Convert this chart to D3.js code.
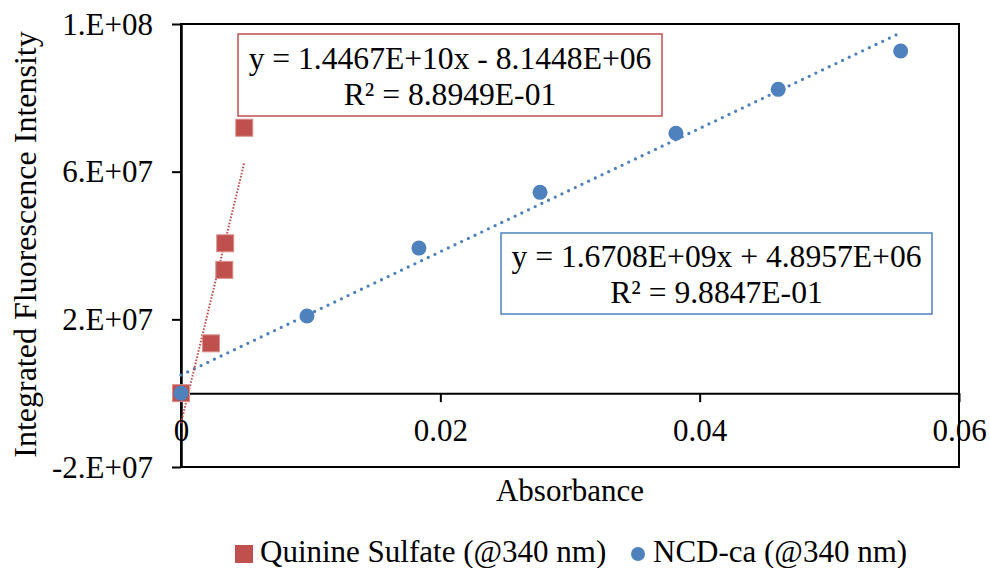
<!DOCTYPE html>
<html>
<head>
<meta charset="utf-8">
<script src="https://cdn.jsdelivr.net/npm/d3@7"></script>
<style>
  body { margin: 0; background: #fff; }
  text { font-family: "Liberation Serif", "Times New Roman", serif; fill: #000; }
</style>
</head>
<body>
<div id="chart"></div>
<script>
// series data
var quinineX = [0, 0.00231, 0.00334, 0.00341, 0.00488];
var quinineY = [0, 1.35e7, 3.34e7, 4.06e7, 7.19e7];

var ncdX = [0, 0.00972, 0.01835, 0.02769, 0.03817, 0.04606, 0.0555];
var ncdY = [0, 2.09e7, 3.93e7, 5.44e7, 7.04e7, 8.23e7, 9.27e7];

// trendline coefficients (slope, intercept) as printed on the chart
var quinineFit = [1.4467e10, -8.1448e6];
var ncdFit = [1.6708e9, 4.8957e6];

var xTicks = [0, 0.02, 0.04, 0.06];
var xTickLabels = ["0", "0.02", "0.04", "0.06"];
var yTicks = [-2e7, 2e7, 6e7, 1e8];
var yTickLabels = ["-2.E+07", "2.E+07", "6.E+07", "1.E+08"];

var seriesNames = ["Quinine Sulfate (@340 nm)", "NCD-ca (@340 nm)"];
var eqLines = [
    ["y = 1.4467E+10x - 8.1448E+06", "R\u00B2 = 8.8949E-01"],
    ["y = 1.6708E+09x + 4.8957E+06", "R\u00B2 = 9.8847E-01"]
];

var red = "#C0504D";
var blue = "#4F81BD";

var svgWidth = 990;
var svgHeight = 568;

var margin = { top: 24, right: 31, bottom: 101, left: 181 };
var width = svgWidth - margin.left - margin.right;
var height = svgHeight - margin.top - margin.bottom;

var svg = d3.select("#chart")
    .append("svg")
    .attr("width", svgWidth)
    .attr("height", svgHeight);

svg.append("rect")
    .attr("width", svgWidth)
    .attr("height", svgHeight)
    .attr("fill", "#fff");

var chartGroup = svg.append("g")
    .attr("transform", `translate(${margin.left}, ${margin.top})`);

var xScale = d3.scaleLinear().domain([0, 0.06]).range([0, width]);
var yScale = d3.scaleLinear().domain([-2e7, 1e8]).range([height, 0]);

// plot frame
chartGroup.append("rect")
    .attr("width", width)
    .attr("height", height)
    .attr("fill", "none")
    .attr("stroke", "#000")
    .attr("stroke-width", 2);

// y axis
var leftAxis = d3.axisLeft(yScale)
    .tickValues(yTicks)
    .tickFormat((d, i) => yTickLabels[i])
    .tickSize(9)
    .tickSizeOuter(0)
    .tickPadding(19);

var yAxisG = chartGroup.append("g").call(leftAxis);
yAxisG.select(".domain").attr("stroke-width", 2.5);
yAxisG.selectAll(".tick line").attr("stroke-width", 2);
yAxisG.selectAll("text")
    .style("font-size", "31px")
    .style("font-family", "Liberation Serif")
    .attr("dy", "0.33em");

// x axis sits on y = 0
var bottomAxis = d3.axisBottom(xScale)
    .tickValues(xTicks)
    .tickFormat((d, i) => xTickLabels[i])
    .tickSize(9)
    .tickSizeOuter(0);

var xAxisG = chartGroup.append("g")
    .attr("transform", `translate(0, ${yScale(0)})`)
    .call(bottomAxis);
xAxisG.select(".domain").attr("stroke-width", 2);
xAxisG.selectAll(".tick line").attr("stroke-width", 2);
xAxisG.selectAll("text")
    .style("font-size", "31px")
    .style("font-family", "Liberation Serif")
    .attr("y", 48)
    .attr("dy", 0);

// axis titles
chartGroup.append("text")
    .attr("x", width / 2)
    .attr("y", height + 34)
    .attr("text-anchor", "middle")
    .style("font-size", "31px")
    .text("Absorbance");

chartGroup.append("text")
    .attr("transform", "rotate(-90)")
    .attr("x", -height / 2 + 1)
    .attr("y", 36 - margin.left)
    .attr("text-anchor", "middle")
    .style("font-size", "32px")
    .text("Integrated Fluorescence Intensity");

// trendlines
function fitLine(fit, xs) {
    var x1 = d3.max(xs);
    return [[0, fit[1]], [x1, fit[0] * x1 + fit[1]]];
}

var line = d3.line()
    .x(d => xScale(d[0]))
    .y(d => yScale(d[1]));

chartGroup.append("path")
    .datum(fitLine(ncdFit, ncdX))
    .attr("d", line)
    .attr("fill", "none")
    .attr("stroke", blue)
    .attr("stroke-width", 3.3)
    .attr("stroke-linecap", "round")
    .attr("stroke-dasharray", "0,7.4");

chartGroup.append("path")
    .datum(fitLine(quinineFit, quinineX))
    .attr("d", line)
    .attr("fill", "none")
    .attr("stroke", red)
    .attr("stroke-width", 2)
    .attr("stroke-dasharray", "1.6,1.6");

// markers
var sq = 17;
chartGroup.selectAll(".qs")
    .data(d3.zip(quinineX, quinineY))
    .enter()
    .append("rect")
    .attr("class", "qs")
    .attr("x", d => xScale(d[0]) - sq / 2)
    .attr("y", d => yScale(d[1]) - sq / 2)
    .attr("width", sq)
    .attr("height", sq)
    .attr("fill", red)
    .attr("stroke", "#d98f8d")
    .attr("stroke-width", 1);

chartGroup.selectAll(".ncd")
    .data(d3.zip(ncdX, ncdY))
    .enter()
    .append("circle")
    .attr("class", "ncd")
    .attr("cx", d => xScale(d[0]))
    .attr("cy", d => yScale(d[1]))
    .attr("r", 7.5)
    .attr("fill", blue);

// equation boxes
var boxes = [
    { x: 238, y: 34, w: 424, h: 82, color: red, b1: 69, b2: 105 },
    { x: 501, y: 233, w: 431, h: 81, color: blue, b1: 267, b2: 303 }
];

boxes.forEach(function (b, i) {
    svg.append("rect")
        .attr("x", b.x)
        .attr("y", b.y)
        .attr("width", b.w)
        .attr("height", b.h)
        .attr("fill", "#fff")
        .attr("stroke", b.color)
        .attr("stroke-width", 1.5);
    svg.append("text")
        .attr("x", b.x + b.w / 2)
        .attr("y", b.b1)
        .attr("text-anchor", "middle")
        .style("font-size", "31.6px")
        .text(eqLines[i][0]);
    svg.append("text")
        .attr("x", b.x + b.w / 2)
        .attr("y", b.b2)
        .attr("text-anchor", "middle")
        .style("font-size", "31.6px")
        .text(eqLines[i][1]);
});

// legend
var legend = svg.append("g");

legend.append("rect")
    .attr("x", 235)
    .attr("y", 545)
    .attr("width", 18)
    .attr("height", 18)
    .attr("fill", red);

legend.append("text")
    .attr("x", 260)
    .attr("y", 562)
    .style("font-size", "31px")
    .text(seriesNames[0]);

legend.append("circle")
    .attr("cx", 638)
    .attr("cy", 554)
    .attr("r", 7)
    .attr("fill", blue);

legend.append("text")
    .attr("x", 653)
    .attr("y", 562)
    .style("font-size", "31px")
    .text(seriesNames[1]);
</script>
</body>
</html>
